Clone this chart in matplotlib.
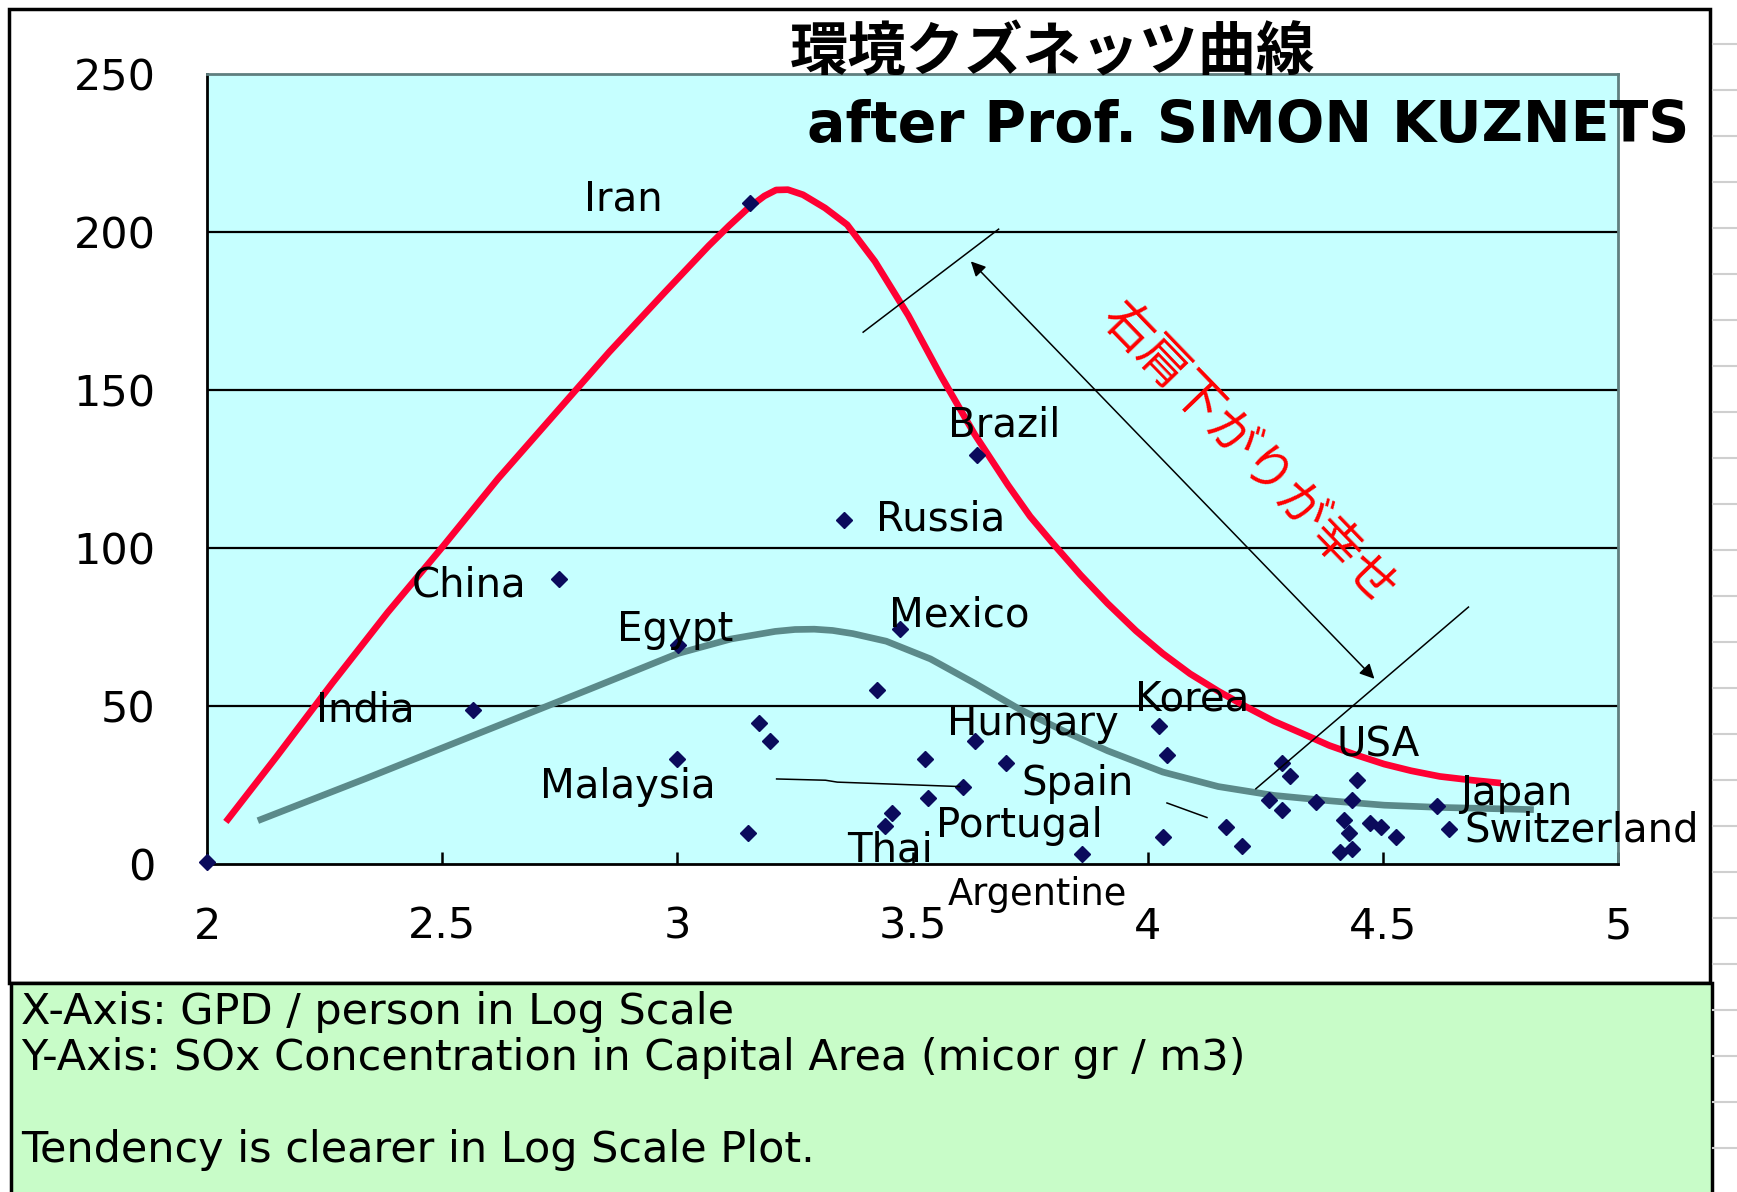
import matplotlib
matplotlib.use("Agg")
import matplotlib.pyplot as plt
from matplotlib.patches import Rectangle
from matplotlib.lines import Line2D

plt.rcParams['font.family'] = ['DejaVu Sans', 'Noto Sans CJK JP']

# scatter data: log10(GDP/person), SOx concentration
gdp_log = [2.00, 3.155, 3.638, 3.355, 2.749, 3.002, 3.473, 2.566, 3.424, 3.174,
           3.197, 2.999, 3.150, 3.633, 3.527, 3.699, 3.607, 3.532, 3.457, 3.442,
           3.860, 4.025, 4.041, 4.032, 4.166, 4.201, 4.286, 4.303, 4.258, 4.286,
           4.357, 4.444, 4.435, 4.418, 4.472, 4.428, 4.496, 4.527, 4.409, 4.435,
           4.616, 4.640]
sox = [0.5, 209.3, 129.4, 109.0, 90.1, 69.4, 74.3, 48.7, 55.0, 44.5,
       38.9, 33.3, 9.8, 38.8, 33.3, 31.9, 24.5, 21.0, 16.1, 11.9,
       3.2, 43.8, 34.4, 8.4, 11.6, 5.6, 31.9, 27.7, 20.3, 17.2,
       19.6, 26.6, 20.3, 14.0, 13.0, 9.8, 11.6, 8.4, 3.9, 4.6,
       18.5, 11.2]

# country labels and where their text sits
countries = ["Iran", "Brazil", "Russia", "China", "Egypt", "Mexico", "India",
             "Malaysia", "Hungary", "Korea", "USA", "Spain", "Japan",
             "Portugal", "Switzerland", "Thai", "Argentine"]
label_x = [2.801, 3.576, 3.422, 2.436, 2.871, 3.451, 2.231, 2.707, 3.573,
           3.974, 4.402, 3.731, 4.664, 3.550, 4.673, 3.361, 3.575]
label_y = [210.4, 138.8, 109.0, 88.0, 74.2, 78.5, 48.7, 24.2, 44.2,
           52.2, 37.5, 25.2, 22.1, 11.9, 10.5, 4.2, -9.6]
label_size = [29] * 16 + [26.5]

# hand drawn curves
red_x = [2.040, 2.148, 2.266, 2.384, 2.502, 2.619, 2.737, 2.855, 2.973, 3.067,
         3.110, 3.150, 3.185, 3.210, 3.235, 3.267, 3.314, 3.361, 3.420, 3.491,
         3.561, 3.632, 3.703, 3.750, 3.797, 3.857, 3.915, 3.975, 4.032, 4.090,
         4.150, 4.210, 4.268, 4.330, 4.386, 4.445, 4.503, 4.560, 4.621, 4.690,
         4.751]
red_y = [13.3, 34.0, 57.2, 79.6, 100.6, 122.0, 142.0, 162.0, 180.9, 195.7,
         202.0, 207.5, 211.4, 213.3, 213.4, 211.8, 207.6, 202.3, 190.7, 173.6,
         154.3, 136.0, 119.9, 110.0, 101.7, 91.5, 82.4, 73.8, 66.6, 60.2,
         54.7, 49.7, 45.2, 41.2, 37.5, 34.4, 31.6, 29.5, 27.7, 26.5,
         25.6]
teal_x = [2.108, 2.337, 2.572, 2.808, 3.001, 3.114, 3.208, 3.250, 3.291, 3.330,
          3.373, 3.444, 3.538, 3.632, 3.726, 3.821, 3.915, 4.032, 4.150, 4.268,
          4.386, 4.503, 4.621, 4.821]
teal_y = [13.7, 27.0, 41.0, 55.0, 66.6, 71.2, 73.6, 74.2, 74.3, 73.9,
          72.9, 70.5, 64.9, 57.2, 49.1, 42.1, 35.8, 29.1, 24.5, 21.7,
          20.0, 18.6, 17.9, 17.2]

yticks = [0, 50, 100, 150, 200, 250]
xticks = [2, 2.5, 3, 3.5, 4, 4.5, 5]
xticklabels = ["2", "2.5", "3", "3.5", "4", "4.5", "5"]

notes = ["X-Axis: GPD / person in Log Scale",
         "Y-Axis: SOx Concentration in Capital Area (micor gr / m3)",
         "",
         "Tendency is clearer in Log Scale Plot."]

fig = plt.figure(figsize=(17.37, 11.92), dpi=100)
fig.patch.set_facecolor("white")

# spreadsheet grid remains on the right edge
for k in range(26):
    yy = 1 - (44 + 46 * k) / 1192
    fig.add_artist(Line2D([0.986, 1.0], [yy, yy], color="#cfcfcf", lw=1.5))

# outer frame and bottom note box
fig.add_artist(Rectangle((0.0052, 0.1753), 0.9793, 0.8171, fill=False,
                         edgecolor="black", lw=2.5))
fig.add_artist(Rectangle((0.0063, -0.01), 0.9793, 0.1855, facecolor="#c8fcc8",
                         edgecolor="black", lw=2.5))

ax = fig.add_axes([0.1192, 0.2752, 0.8123, 0.6627])
ax.set_facecolor("#c6ffff")
ax.set_xlim(2, 5)
ax.set_ylim(0, 250)

for g in yticks[1:-1]:
    ax.axhline(g, color="black", lw=1.6, zorder=1)

ax.plot(red_x, red_y, color="#ff0033", lw=4.8, zorder=3,
        solid_capstyle="butt", solid_joinstyle="round")
ax.plot(teal_x, teal_y, color="#5b8a8a", lw=4.8, zorder=3,
        solid_capstyle="butt", solid_joinstyle="round")
ax.plot(gdp_log, sox, "D", color="#0b0b5c", ms=8, zorder=4, clip_on=False)

for name, lx, ly, fs in zip(countries, label_x, label_y, label_size):
    ax.text(lx, ly, name, fontsize=fs, ha="left", va="center", zorder=5,
            clip_on=False)

# annotation lines
ax.plot([3.395, 3.683], [168.3, 200.9], color="black", lw=1.1, zorder=4)
ax.plot([4.230, 4.682], [23.8, 81.3], color="black", lw=1.1, zorder=4)
ax.annotate("", xy=(3.624, 190.7), xytext=(4.482, 58.6),
            arrowprops=dict(arrowstyle="<|-|>", color="black", lw=1.1,
                            mutation_scale=22, shrinkA=0, shrinkB=0), zorder=4)
ax.plot([3.211, 3.315, 3.340, 3.600], [26.9, 26.5, 25.9, 24.5],
        color="black", lw=1.1, zorder=4)
ax.plot([4.041, 4.126], [19.3, 14.7], color="black", lw=1.1, zorder=4)

ax.text(4.215, 129.7, "右肩下がりが幸せ", color="#ff0000", fontsize=36,
        rotation=-46, rotation_mode="anchor", ha="center", va="center",
        family=["Noto Sans CJK JP"], zorder=5)

ax.set_yticks(yticks)
ax.set_yticklabels([str(v) for v in yticks])
ax.set_xticks(xticks)
ax.set_xticklabels(xticklabels)
ax.tick_params(axis="y", length=0, pad=37, labelsize=31)
ax.tick_params(axis="x", direction="in", length=9, width=1.8, pad=30,
               labelsize=31)
for s in ["left", "bottom"]:
    ax.spines[s].set_color("black")
    ax.spines[s].set_linewidth(2)
for s in ["top", "right"]:
    ax.spines[s].set_color("#5f7f7f")
    ax.spines[s].set_linewidth(2)

# titles
fig.text(0.4548, 0.9555, "環境クズネッツ曲線", fontsize=42, fontweight="bold",
         family=["Noto Sans CJK JP"], ha="left", va="center")
fig.text(0.4646, 0.8935, "after Prof. SIMON KUZNETS", fontsize=41,
         fontweight="bold", family=["DejaVu Sans"],
         ha="left", va="center")

# notes under the chart
note_y = [1 - 1012 / 1192, 1 - 1058 / 1192, 1 - 1104 / 1192, 1 - 1150 / 1192]
for t, yy in zip(notes, note_y):
    fig.text(0.012, yy, t, fontsize=31, ha="left", va="center")

fig.savefig("out.png", dpi=100)
